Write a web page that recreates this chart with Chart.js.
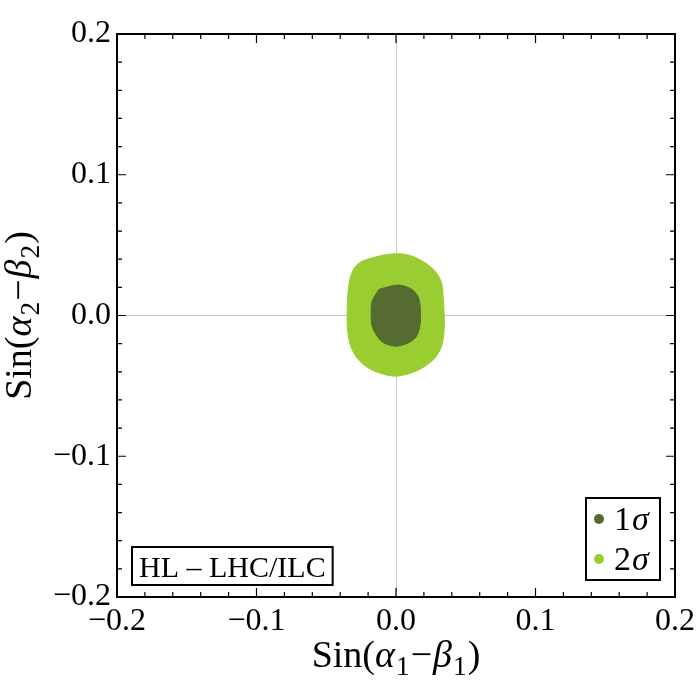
<!DOCTYPE html>
<html>
<head>
<meta charset="utf-8">
<script src="https://cdn.jsdelivr.net/npm/chart.js@4"></script>
<style>
  body { margin: 0; background: #fff; }
</style>
</head>
<body>
<canvas id="myChart" width="700" height="700" style="width:700px;height:700px"></canvas>
<script>
// outline of the 2 sigma region
const sigma2X = [-0.0171, -0.0064, 0.0031, 0.0114, 0.0209, 0.0280, 0.0327, 0.0339, 0.0346, 0.0344, 0.0327, 0.0280, 0.0209, 0.0114, -0.0005, -0.0123, -0.0218, -0.0289, -0.0332, -0.0349, -0.0349, -0.0342, -0.0325, -0.0289, -0.0242];
const sigma2Y = [0.0410, 0.0434, 0.0438, 0.0422, 0.0374, 0.0315, 0.0232, 0.0114, -0.0005, -0.0123, -0.0218, -0.0301, -0.0360, -0.0407, -0.0431, -0.0407, -0.0360, -0.0289, -0.0194, -0.0076, 0.0066, 0.0185, 0.0280, 0.0351, 0.0386];
// outline of the 1 sigma region
const sigma1X = [-0.0123, -0.0040, 0.0031, 0.0114, 0.0157, 0.0173, 0.0176, 0.0166, 0.0138, 0.0078, -0.0005, -0.0088, -0.0135, -0.0171, -0.0178, -0.0171];
const sigma1Y = [0.0185, 0.0208, 0.0216, 0.0185, 0.0137, 0.0066, -0.0028, -0.0100, -0.0159, -0.0199, -0.0218, -0.0194, -0.0147, -0.0076, 0.0019, 0.0102];

const legendLabels = ["1", "2"];
const boxLabel = "HL \u2013 LHC/ILC";
const minorTicks = [-0.2, -0.18, -0.16, -0.14, -0.12, -0.1, -0.08, -0.06, -0.04, -0.02, 0, 0.02, 0.04, 0.06, 0.08, 0.1, 0.12, 0.14, 0.16, 0.18, 0.2];
const majorTicks = [-0.2, -0.1, 0, 0.1, 0.2];

const dark = "#556b2f";
const light = "#9acd32";
const serif = "'Liberation Serif', 'DejaVu Serif', serif";

function outline(xs, ys) {
    var pts = [];
    for (var i = 0; i < xs.length; i++) pts.push({ x: xs[i], y: ys[i] });
    pts.push({ x: xs[0], y: ys[0] });
    return pts;
}

// draws a run of text pieces, some italic, some lowered and small
function richText(ctx, parts, size, x, y) {
    var w = 0;
    parts.forEach(function (p) {
        ctx.font = (p.it ? "italic " : "") + (p.sub ? size * 0.72 : size) + "px " + serif;
        p.w = ctx.measureText(p.t).width + (p.gap || 0);
        w += p.w;
    });
    var cx = x - w / 2;
    parts.forEach(function (p) {
        ctx.font = (p.it ? "italic " : "") + (p.sub ? size * 0.72 : size) + "px " + serif;
        ctx.fillText(p.t, cx, y + (p.sub ? size * 0.2 : 0));
        cx += p.w;
    });
}

function titleParts(n) {
    return [{ t: "Sin(" }, { t: "\u03b1", it: true, gap: 1 }, { t: n, sub: true, gap: 1 }, { t: "\u2212", gap: 1 },
            { t: "\u03b2", it: true, gap: 1 }, { t: n, sub: true, gap: 1 }, { t: ")" }];
}

const frame = {
    id: "frame",
    afterDraw(chart) {
        const ctx = chart.ctx, a = chart.chartArea;
        const xs = chart.scales.x, ys = chart.scales.y;
        ctx.save();
        ctx.strokeStyle = "#000";
        ctx.lineWidth = 1.2;
        ctx.beginPath();
        minorTicks.forEach(function (v) {
            var len = majorTicks.some(function (m) { return Math.abs(m - v) < 1e-9; }) ? 9 : 5;
            var px = xs.getPixelForValue(v), py = ys.getPixelForValue(v);
            ctx.moveTo(px, a.bottom); ctx.lineTo(px, a.bottom - len);
            ctx.moveTo(px, a.top); ctx.lineTo(px, a.top + len);
            ctx.moveTo(a.left, py); ctx.lineTo(a.left + len, py);
            ctx.moveTo(a.right, py); ctx.lineTo(a.right - len, py);
        });
        ctx.stroke();
        ctx.lineWidth = 2;
        ctx.strokeRect(a.left, a.top, a.right - a.left, a.bottom - a.top);

        // label box, bottom left
        ctx.font = "30px " + serif;
        var tw = ctx.measureText(boxLabel).width;
        var bx = a.left + 15, by = a.bottom - 50;
        ctx.fillStyle = "#fff";
        ctx.fillRect(bx, by, tw + 14, 38);
        ctx.strokeRect(bx, by, tw + 14, 38);
        ctx.fillStyle = "#000";
        ctx.textBaseline = "alphabetic";
        ctx.fillText(boxLabel, bx + 7, by + 30);

        // legend, bottom right
        var lx = a.right - 89, ly = a.bottom - 99;
        ctx.fillStyle = "#fff";
        ctx.fillRect(lx, ly, 74, 82);
        ctx.strokeRect(lx, ly, 74, 82);
        [chart.data.datasets[1], chart.data.datasets[0]].forEach(function (ds, i) {
            var cy = ly + 21 + i * 40;
            ctx.fillStyle = ds.backgroundColor;
            ctx.beginPath();
            ctx.arc(lx + 13, cy, 5, 0, Math.PI * 2);
            ctx.fill();
            ctx.fillStyle = "#000";
            ctx.font = "34px " + serif;
            ctx.fillText(legendLabels[i], lx + 28, cy + 11);
            var dw = ctx.measureText(legendLabels[i]).width;
            ctx.font = "italic 34px " + serif;
            ctx.fillText("\u03c3", lx + 29 + dw, cy + 11);
        });

        // axis titles
        ctx.fillStyle = "#000";
        richText(ctx, titleParts("1"), 38, (a.left + a.right) / 2, 667);
        ctx.translate(31, (a.top + a.bottom) / 2);
        ctx.rotate(-Math.PI / 2);
        richText(ctx, titleParts("2"), 38, 0, 0);
        ctx.restore();
    }
};

function tickText(v) {
    return v.toFixed(1).replace("-", "\u2212");
}

function zeroLine(c) {
    return Math.abs(c.tick.value) < 1e-9 ? "#c8c8c8" : "rgba(0,0,0,0)";
}

new Chart(document.getElementById("myChart"), {
    type: "scatter",
    data: {
        datasets: [
            {
                label: "2\u03c3",
                type: "line",
                order: 2,
                data: outline(sigma2X, sigma2Y),
                backgroundColor: light,
                borderColor: light,
                borderWidth: 1,
                fill: "shape",
                tension: 0.3,
                pointRadius: 0
            },
            {
                label: "1\u03c3",
                type: "line",
                order: 1,
                data: outline(sigma1X, sigma1Y),
                backgroundColor: dark,
                borderColor: dark,
                borderWidth: 1,
                fill: "shape",
                tension: 0.3,
                pointRadius: 0
            }
        ]
    },
    options: {
        responsive: false,
        devicePixelRatio: 1,
        animation: false,
        layout: { padding: { top: 34, right: 21, left: 0, bottom: 0 } },
        plugins: { legend: { display: false }, tooltip: { enabled: false } },
        scales: {
            x: {
                type: "linear",
                min: -0.2, max: 0.2,
                afterFit: function (s) { s.height = 103; },
                border: { display: false },
                grid: { drawTicks: false, color: zeroLine, lineWidth: 1 },
                ticks: {
                    stepSize: 0.1, padding: 5, color: "#000",
                    font: { family: serif, size: 32 },
                    callback: tickText
                }
            },
            y: {
                type: "linear",
                min: -0.2, max: 0.2,
                afterFit: function (s) { s.width = 117; },
                border: { display: false },
                grid: { drawTicks: false, color: zeroLine, lineWidth: 1 },
                ticks: {
                    stepSize: 0.1, padding: 6, color: "#000",
                    font: { family: serif, size: 32 },
                    callback: tickText
                }
            }
        }
    },
    plugins: [frame]
});
</script>
</body>
</html>
